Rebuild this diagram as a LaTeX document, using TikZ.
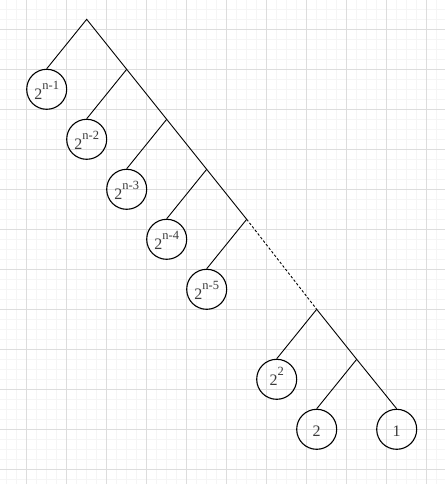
\documentclass[tikz,border=0pt]{standalone}
\usepackage{fontspec}
\setmainfont{Liberation Serif}
\definecolor{labelgray}{HTML}{3A3A3A}
\definecolor{majorgrid}{HTML}{DDDDDD}
\definecolor{minorgrid}{HTML}{F5F5F5}
\newcommand{\pw}[2]{\smash{\raisebox{-#1}{2\raisebox{10pt}{\fontsize{12.5}{12.5}\selectfont #2}}}}
\newcommand{\plain}[2]{\smash{\raisebox{-#1}{#2}}}
\begin{document}
\begin{tikzpicture}[x=1pt,y=-1pt,
  leaf/.style={circle,draw,line width=1.1pt,minimum size=40pt,inner sep=0pt,
    text=labelgray,font=\fontsize{16}{16}\selectfont},
  edge/.style={line width=0.9pt},
  dottededge/.style={line width=0.9pt,dash pattern=on 2.5pt off 2pt}]
\useasboundingbox (0,0) rectangle (445,484);
\fill[white] (0,0) rectangle (445,484);
\foreach \i in {0,...,44} {
  \draw[minorgrid,line width=0.8pt] (6.7+10*\i,0) -- (6.7+10*\i,484);
}
\foreach \i in {0,...,48} {
  \draw[minorgrid,line width=0.8pt] (0,9.3+10*\i) -- (445,9.3+10*\i);
}
\foreach \i in {0,...,10} {
  \draw[majorgrid,line width=0.9pt] (26.7+40*\i,0) -- (26.7+40*\i,484);
}
\foreach \i in {0,...,11} {
  \draw[majorgrid,line width=0.9pt] (0,29.3+40*\i) -- (445,29.3+40*\i);
}
% junctions
\coordinate (j0) at (86.7,19.3);
\coordinate (j1) at (126.7,69.3);
\coordinate (j2) at (166.7,119.3);
\coordinate (j3) at (206.7,169.3);
\coordinate (j4) at (246.7,219.3);
\coordinate (j5) at (316.7,309.3);
\coordinate (j6) at (356.7,359.3);
% leaves
\node[leaf] (c1) at (46.7,89.3)  {\pw{10pt}{n-1}};
\node[leaf] (c2) at (86.7,139.3) {\pw{10pt}{n-2}};
\node[leaf] (c3) at (126.7,189.3) {\pw{10pt}{n-3}};
\node[leaf] (c4) at (166.7,239.3) {\pw{10pt}{n-4}};
\node[leaf] (c5) at (206.7,289.3) {\pw{10pt}{n-5}};
\node[leaf] (c6) at (276.7,379.3) {\pw{6.5pt}{2}};
\node[leaf] (c7) at (316.7,429.3) {\plain{6.7pt}{2}};
\node[leaf] (c8) at (396.7,429.3) {\plain{6.7pt}{1}};
% edges
\draw[edge] (c1.north) -- (j0) -- (j1) -- (j2) -- (j3) -- (j4);
\draw[edge] (j1) -- (c2.north);
\draw[edge] (j2) -- (c3.north);
\draw[edge] (j3) -- (c4.north);
\draw[edge] (j4) -- (c5.north);
\draw[dottededge] (j4) -- (j5);
\draw[edge] (j5) -- (c6.north);
\draw[edge] (j5) -- (j6) -- (c8.north);
\draw[edge] (j6) -- (c7.north);
\end{tikzpicture}
\end{document}
